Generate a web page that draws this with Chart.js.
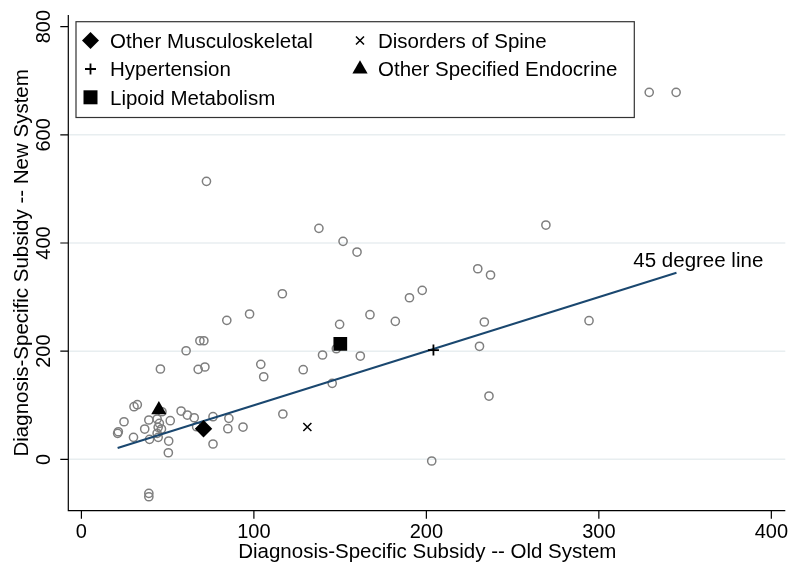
<!DOCTYPE html>
<html>
<head>
<meta charset="utf-8">
<script src="https://cdn.jsdelivr.net/npm/chart.js@4/dist/chart.umd.min.js"></script>
<style>
  html, body { margin: 0; padding: 0; background: #ffffff; }
  canvas { display: block; }
</style>
</head>
<body>
<canvas id="chart" width="795" height="567"></canvas>
<script>
// Diagnosis-specific subsidy under the old system (x) and the new system (y)
const oldSystem = [
  24.7, 21.4, 21.0, 30.2, 30.5, 32.4, 39.1, 36.7, 39.5, 46.7,
  43.9, 45.2, 44.5, 46.4, 43.9, 44.5, 51.5, 50.6, 50.4, 57.8,
  61.4, 65.4, 66.8, 76.3, 76.3, 85.5, 84.9, 93.7, 39.1, 39.1,
  116.8, 45.8, 60.7, 67.7, 71.6, 68.7, 71.0, 84.3, 97.5, 116.5,
  72.5, 104.0, 105.7, 128.6, 139.8, 147.8, 149.7, 145.4, 161.7, 167.3,
  182.0, 190.2, 197.6, 137.7, 151.7, 159.8, 229.8, 237.2, 233.6, 230.8,
  236.3, 203.1, 294.3, 269.3, 329.2, 344.8
];
const newSystem = [
  69.5, 51.0, 48.0, 40.7, 97.3, 101.0, 72.7, 56.0, 37.0, 88.0,
  74.5, 66.6, 59.2, 56.0, 48.1, 40.7, 71.4, 33.8, 12.2, 89.3,
  81.9, 76.9, 60.3, 78.8, 28.3, 75.8, 56.6, 59.7, -62.9, -69.2,
  83.8, 167.0, 200.8, 166.4, 170.7, 219.3, 219.3, 257.0, 268.7, 306.2,
  514.0, 175.7, 152.7, 165.7, 192.9, 204.5, 249.6, 140.5, 191.0, 267.4,
  255.2, 298.8, 312.5, 427.1, 403.1, 383.3, 352.4, 340.8, 253.9, 209.0,
  117.0, -3.1, 256.3, 433.2, 678.6, 678.6
];

// Highlighted diagnoses: [old system, new system]
const otherMusculoskeletal = [70.8, 56.6];
const hypertension = [204.1, 202.0];
const lipidMetabolism = [150.1, 213.4];
const disordersOfSpine = [131.0, 59.7];
const otherEndocrine = [44.9, 91.5];

// Reference line y = x over the observed range
const lineEnds = [21, 345];

const xTicks = [0, 100, 200, 300, 400];
const yTicks = [0, 200, 400, 600, 800];
const yGrid = [0, 200, 400, 600];

const xTitle = 'Diagnosis-Specific Subsidy -- Old System';
const yTitle = 'Diagnosis-Specific Subsidy -- New System';
const lineLabel = '45 degree line';

const FONT = '"Liberation Sans", Arial, Helvetica, sans-serif';
const NAVY = '#1a476f';
const GREY = '#7f7f7f';

const legendItems = [
  { label: 'Other Musculoskeletal', style: 'diamond', col: 0, row: 0 },
  { label: 'Disorders of Spine', style: 'x', col: 1, row: 0 },
  { label: 'Hypertension', style: 'plus', col: 0, row: 1 },
  { label: 'Other Specified Endocrine', style: 'triangle', col: 1, row: 1 },
  { label: 'Lipoid Metabolism', style: 'square', col: 0, row: 2 }
];

function pt(pair) { return [{ x: pair[0], y: pair[1] }]; }

function drawSymbol(ctx, style, x, y) {
  ctx.save();
  ctx.fillStyle = '#000';
  ctx.strokeStyle = '#000';
  ctx.lineWidth = 1.8;
  ctx.beginPath();
  if (style === 'diamond') {
    const r = 8.5;
    ctx.moveTo(x - r, y); ctx.lineTo(x, y - r); ctx.lineTo(x + r, y); ctx.lineTo(x, y + r);
    ctx.closePath(); ctx.fill();
  } else if (style === 'square') {
    const h = 7;
    ctx.rect(x - h, y - h, 2 * h, 2 * h); ctx.fill();
  } else if (style === 'triangle') {
    const r = 8.8;
    ctx.moveTo(x, y - r);
    ctx.lineTo(x + r * Math.sin(2 * Math.PI / 3), y - r * Math.cos(2 * Math.PI / 3));
    ctx.lineTo(x + r * Math.sin(4 * Math.PI / 3), y - r * Math.cos(4 * Math.PI / 3));
    ctx.closePath(); ctx.fill();
  } else if (style === 'plus') {
    const r = 5.5;
    ctx.moveTo(x - r, y); ctx.lineTo(x + r, y); ctx.moveTo(x, y - r); ctx.lineTo(x, y + r);
    ctx.stroke();
  } else if (style === 'x') {
    const r = 4;
    ctx.lineWidth = 1.5;
    ctx.moveTo(x - r, y - r); ctx.lineTo(x + r, y + r); ctx.moveTo(x + r, y - r); ctx.lineTo(x - r, y + r);
    ctx.stroke();
  }
  ctx.restore();
}

const frame = {
  id: 'frame',
  beforeDatasetsDraw(chart) {
    const { ctx, chartArea: a, scales: { y } } = chart;
    ctx.save();
    ctx.strokeStyle = '#e8eef0';
    ctx.lineWidth = 1.5;
    yGrid.forEach(v => {
      const py = y.getPixelForValue(v);
      ctx.beginPath(); ctx.moveTo(a.left, py); ctx.lineTo(a.right, py); ctx.stroke();
    });
    ctx.restore();
  },
  afterDatasetsDraw(chart) {
    const { ctx, chartArea: a, scales: { x, y } } = chart;
    ctx.save();
    // axis lines and tick marks
    ctx.strokeStyle = '#000';
    ctx.lineWidth = 1.2;
    ctx.beginPath();
    ctx.moveTo(a.left, a.top); ctx.lineTo(a.left, a.bottom); ctx.lineTo(a.right, a.bottom);
    yTicks.forEach(v => { const py = y.getPixelForValue(v); ctx.moveTo(a.left - 8, py); ctx.lineTo(a.left, py); });
    xTicks.forEach(v => { const px = x.getPixelForValue(v); ctx.moveTo(px, a.bottom); ctx.lineTo(px, a.bottom + 8); });
    ctx.stroke();

    ctx.fillStyle = '#000';
    ctx.font = '20px ' + FONT;
    ctx.textBaseline = 'alphabetic';
    ctx.textAlign = 'center';
    xTicks.forEach(v => ctx.fillText(String(v), x.getPixelForValue(v), 538));
    yTicks.forEach(v => {
      ctx.save();
      ctx.translate(50, y.getPixelForValue(v));
      ctx.rotate(-Math.PI / 2);
      ctx.fillText(String(v), 0, 0);
      ctx.restore();
    });

    ctx.font = '20.5px ' + FONT;
    ctx.fillText(xTitle, (a.left + a.right) / 2 + 0.5, 558);
    ctx.save();
    ctx.translate(28, (a.top + a.bottom) / 2);
    ctx.rotate(-Math.PI / 2);
    ctx.fillText(yTitle, 0, 0);
    ctx.restore();

    // label for the reference line
    ctx.textAlign = 'left';
    ctx.fillText(lineLabel, x.getPixelForValue(320), y.getPixelForValue(356));

    // legend box
    const L = 76, T = 21.7, R = 634.3, B = 117.5;
    ctx.fillStyle = '#fff';
    ctx.fillRect(L, T, R - L, B - T);
    ctx.strokeStyle = '#333';
    ctx.lineWidth = 1.2;
    ctx.strokeRect(L, T, R - L, B - T);
    const symX = [90.5, 360], textX = [110, 378], rowY = [40.5, 69, 97.3];
    ctx.fillStyle = '#000';
    legendItems.forEach(it => {
      drawSymbol(ctx, it.style, symX[it.col], rowY[it.row]);
      ctx.fillText(it.label, textX[it.col], rowY[it.row] + 7.3);
    });
    ctx.restore();
  }
};

new Chart(document.getElementById('chart'), {
  type: 'scatter',
  data: {
    datasets: [
      {
        label: 'Other Musculoskeletal', data: pt(otherMusculoskeletal), order: 0,
        pointStyle: 'rectRot', pointRadius: 8.7, backgroundColor: '#000', borderColor: '#000', borderWidth: 0
      },
      {
        label: 'Hypertension', data: pt(hypertension), order: 0,
        pointStyle: 'cross', pointRadius: 5.5, backgroundColor: '#000', borderColor: '#000', borderWidth: 1.8
      },
      {
        label: 'Lipoid Metabolism', data: pt(lipidMetabolism), order: 0,
        pointStyle: 'rect', pointRadius: 9.7, backgroundColor: '#000', borderColor: '#000', borderWidth: 0
      },
      {
        label: 'Disorders of Spine', data: pt(disordersOfSpine), order: 0,
        pointStyle: 'crossRot', pointRadius: 5.7, backgroundColor: '#000', borderColor: '#000', borderWidth: 1.5
      },
      {
        label: 'Other Specified Endocrine', data: pt(otherEndocrine), order: 0,
        pointStyle: 'triangle', pointRadius: 8.8, backgroundColor: '#000', borderColor: '#000', borderWidth: 0
      },
      {
        type: 'line', label: lineLabel, order: 1,
        data: lineEnds.map(v => ({ x: v, y: v })),
        borderColor: NAVY, borderWidth: 2, pointRadius: 0, fill: false, tension: 0
      },
      {
        label: 'Diagnoses', order: 2,
        data: oldSystem.map((v, i) => ({ x: v, y: newSystem[i] })),
        pointStyle: 'circle', pointRadius: 4.1, borderWidth: 1.5,
        borderColor: GREY, backgroundColor: 'rgba(0,0,0,0)'
      }
    ]
  },
  options: {
    responsive: false,
    animation: false,
    devicePixelRatio: 1,
    layout: { padding: { left: 68.3, top: 15, right: 0, bottom: 56.3 } },
    plugins: { legend: { display: false }, tooltip: { enabled: false } },
    scales: {
      x: { type: 'linear', display: false, min: -7.6, max: 408.1 },
      y: { type: 'linear', display: false, min: -95, max: 821.6 }
    }
  },
  plugins: [frame]
});
</script>
</body>
</html>
